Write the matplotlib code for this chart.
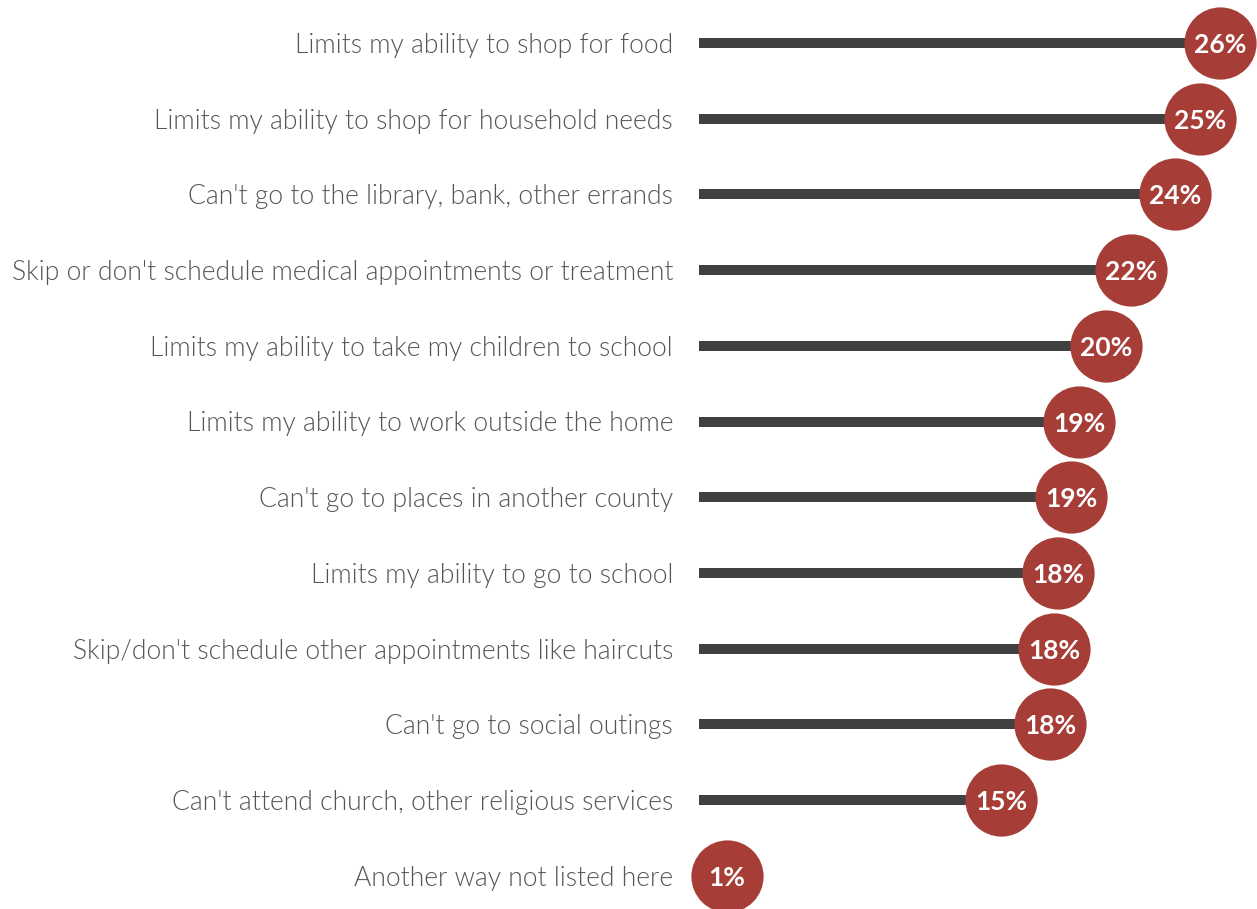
import matplotlib.pyplot as plt
from matplotlib import font_manager as fm

# Ways lack of transportation affects people (share of respondents, %)
categories = [
    "Limits my ability to shop for food",
    "Limits my ability to shop for household needs",
    "Can't go to the library, bank, other errands",
    "Skip or don't schedule medical appointments or treatment",
    "Limits my ability to take my children to school",
    "Limits my ability to work outside the home",
    "Can't go to places in another county",
    "Limits my ability to go to school",
    "Skip/don't schedule other appointments like haircuts",
    "Can't go to social outings",
    "Can't attend church, other religious services",
    "Another way not listed here",
]
values = [26.05, 25.05, 23.8, 21.6, 20.35, 19.0, 18.6, 17.95, 17.75, 17.55, 15.1, 1.4]

bar_color = "#404040"
dot_color = "#A63D37"
label_color = "#555555"

# pick the Lato Light face (weight 300) for the category labels
lato = [f for f in fm.fontManager.ttflist if f.name == "Lato" and f.style == "normal"]
light = None
for f in lato:
    if "light" in f.fname.lower() and "italic" not in f.fname.lower():
        light = f
if light is None and lato:
    light = min(lato, key=lambda f: abs(int(f.weight) - 300) if str(f.weight).isdigit() else 999)
if light is not None:
    label_font = fm.FontProperties(fname=light.fname, size=19.1)
else:
    label_font = fm.FontProperties(family="Lato", weight="light", size=19.1)

W, H = 1257, 909
fig = plt.figure(figsize=(W / 100, H / 100), dpi=100)

# axes starts where the bars start; 20 px per percentage point
x0 = 699
row_top = 43
row_step = 75.7
ax = fig.add_axes([x0 / W, 0, (W - x0) / W, 1])
ax.set_xlim(0, (W - x0) / 20)
ax.set_ylim((H - row_top) / row_step, -row_top / row_step)

for i, v in enumerate(values):
    ax.plot([0, v], [i, i], color=bar_color, lw=7.2, solid_capstyle="butt", zorder=1)
    ax.plot(v, i, "o", ms=52, color=dot_color, mec="none", zorder=2, clip_on=False)
    ax.text(v, i, f"{int(v + 0.5)}%", ha="center", va="center_baseline",
            color="white", fontsize=19, fontweight="bold", family="Lato", zorder=3)

ax.set_yticks(range(len(categories)), labels=categories, color=label_color)
for t in ax.get_yticklabels():
    t.set_fontproperties(label_font)
    t.set_verticalalignment("center_baseline")
ax.tick_params(axis="y", length=0, pad=18.7)
ax.set_xticks([])
for s in ax.spines.values():
    s.set_visible(False)

fig.savefig("out.png", dpi=100)
